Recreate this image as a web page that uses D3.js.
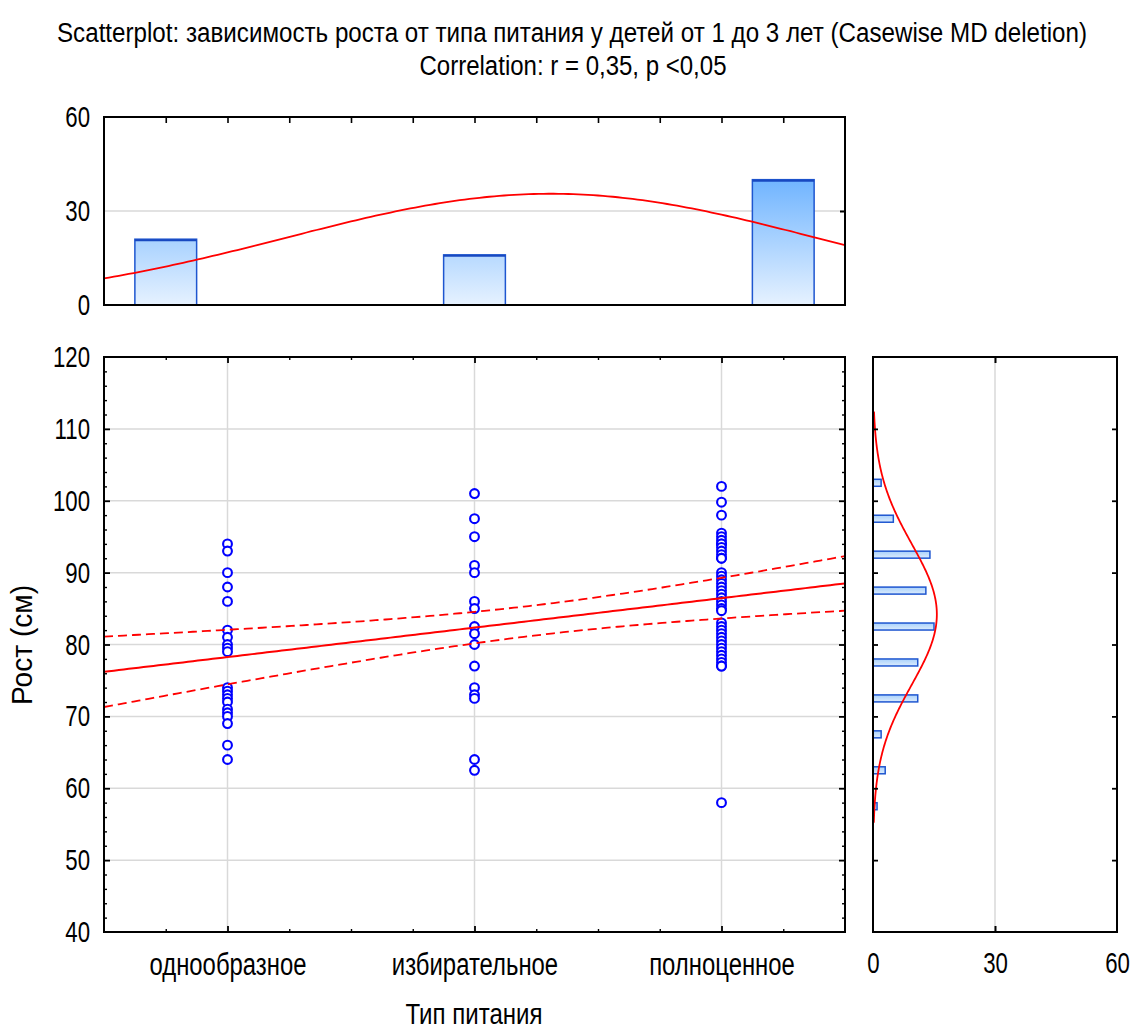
<!DOCTYPE html>
<html><head><meta charset="utf-8">
<script src="https://cdn.jsdelivr.net/npm/d3@7"></script>
<style>
body{margin:0;background:#fff}
svg{display:block}
text{font-family:"Liberation Sans",Arial,sans-serif;fill:#000}
</style>
</head><body>
<svg id="c" width="1131" height="1028"></svg>
<script>
// ---------------- DATA ----------------
const titleLine1 = "Scatterplot: зависимость роста от типа питания у детей от 1 до 3 лет (Casewise MD deletion)";
const titleLine2 = "Correlation: r = 0,35, p <0,05";
const xAxisTitle = "Тип питания";
const yAxisTitle = "Рост (см)";
const categories = ["однообразное", "избирательное", "полноценное"];
const categoryCodes = [1, 2, 3];

// heights (cm) per feeding type
const heightsUniform   = [94, 93, 90, 88, 86, 82, 81, 80, 79.5, 79, 74, 73.5, 73, 72.5, 72, 71, 70.5, 70, 69, 66, 64];
const heightsSelective = [101, 97.5, 95, 91, 90, 86, 85, 82.5, 81.5, 80, 77, 74, 73, 72.5, 64, 62.5];
const heightsFull      = [102, 99.8, 98, 95.5, 95, 94.5, 94, 94, 93.5, 93, 92.5, 92, 92,
                          90, 89.5, 89, 88.5, 88, 87.5, 87, 86.5, 86, 85.5, 85, 84.7,
                          83, 82.5, 82, 81.5, 81, 80.5, 80, 79.5, 79, 78.5, 78, 77.5, 77, 77, 58];

// top histogram (counts per feeding type, bins as drawn)
const topBinCenters = [0.75, 2, 3.25];
const topBinCounts  = [21, 16, 40];
const topBinWidth = 0.25;

// right histogram (height distribution)
const rightBinCenters = [102.5, 97.5, 92.5, 87.5, 82.5, 77.5, 72.5, 67.5, 62.5, 57.5];
const rightBinCounts  = [2, 5, 14, 13, 15, 11, 11, 2, 3, 1];

// tick values
const yTicks = [40, 50, 60, 70, 80, 90, 100, 110, 120];
const topYTicks = [0, 30, 60];
const rightXTicks = [0, 30, 60];

// fitted curves
const regIntercept = 74.15, regSlope = 4.1;                  // linear fit
const bandCenter = 2.25, bandHalf0 = 2.1, bandSpread = 2.53; // 95% confidence band
const topFitMean = 2.31, topFitSd = 1.07, topFitPeak = 35.5;
const rightFitMean = 84.2, rightFitSd = 9.8, rightFitPeak = 15.7;
const rightFitRange = [55.2, 112.5];

// ---------------- DRAWING ----------------
const svg = d3.select("#c");
const xMain = d3.scaleLinear().domain([0.5, 3.5]).range([104, 845]);
const yMain = d3.scaleLinear().domain([40, 120]).range([932, 357]);
const yTop = d3.scaleLinear().domain([0, 60]).range([305, 117]);
const xRight = d3.scaleLinear().domain([0, 60]).range([873, 1117]);

const RED = "#ff0000", BLUE = "#0000ff", GRID = "#d9d9d9", BARSTROKE = "#1e56d0";
const FONT = "Liberation Sans, Arial, sans-serif";

// tall, narrow lettering like the original
function narrow(sel, size, ratio) {
  sel.attr("font-size", size).attr("font-family", FONT).attr("fill", "#000").each(function () {
    const L = this.getComputedTextLength();
    this.setAttribute("textLength", L * ratio);
    this.setAttribute("lengthAdjust", "spacingAndGlyphs");
  });
}

const defs = svg.append("defs");
const g1 = defs.append("linearGradient").attr("id", "gTop").attr("gradientUnits", "userSpaceOnUse")
  .attr("x1", 0).attr("y1", yTop(0)).attr("x2", 0).attr("y2", yTop(60));
g1.append("stop").attr("offset", 0).attr("stop-color", "#e6f2ff");
g1.append("stop").attr("offset", 1).attr("stop-color", "#3595ff");
const g2 = defs.append("linearGradient").attr("id", "gRight").attr("x1", 0).attr("y1", 0).attr("x2", 0).attr("y2", 1);
g2.append("stop").attr("offset", 0).attr("stop-color", "#a9d1fb");
g2.append("stop").attr("offset", 1).attr("stop-color", "#dcecfd");
defs.append("clipPath").attr("id", "clipMain").append("rect")
  .attr("x", xMain(0.5)).attr("y", yMain(120)).attr("width", xMain(3.5) - xMain(0.5)).attr("height", yMain(40) - yMain(120));
defs.append("clipPath").attr("id", "clipTop").append("rect")
  .attr("x", xMain(0.5)).attr("y", yTop(60)).attr("width", xMain(3.5) - xMain(0.5)).attr("height", yTop(0) - yTop(60));

// Titles
svg.append("text").attr("x", 572).attr("y", 42).attr("text-anchor", "middle").attr("font-size", 27)
  .attr("textLength", 1030).attr("lengthAdjust", "spacingAndGlyphs").text(titleLine1);
svg.append("text").attr("x", 573).attr("y", 75).attr("text-anchor", "middle").attr("font-size", 27)
  .attr("textLength", 307).attr("lengthAdjust", "spacingAndGlyphs").text(titleLine2);

// ---------- TOP PANEL ----------
const topG = svg.append("g");
topG.append("line").attr("x1", xMain(0.5)).attr("x2", xMain(3.5)).attr("y1", yTop(30)).attr("y2", yTop(30))
  .attr("stroke", GRID).attr("stroke-width", 1.5);
const tb = topG.selectAll(".tb").data(topBinCenters.map((c, i) => ({c, v: topBinCounts[i]}))).enter();
tb.append("rect").attr("x", d => xMain(d.c - topBinWidth / 2)).attr("y", d => yTop(d.v))
  .attr("width", d => xMain(d.c + topBinWidth / 2) - xMain(d.c - topBinWidth / 2))
  .attr("height", d => yTop(0) - yTop(d.v))
  .attr("fill", "url(#gTop)").attr("stroke", BARSTROKE).attr("stroke-width", 1.5);
tb.append("line").attr("x1", d => xMain(d.c - topBinWidth / 2)).attr("x2", d => xMain(d.c + topBinWidth / 2))
  .attr("y1", d => yTop(d.v) + 1).attr("y2", d => yTop(d.v) + 1).attr("stroke", "#1848c0").attr("stroke-width", 2);
const topCurve = d3.range(0.5, 3.5001, 0.02).map(x => [x, topFitPeak * Math.exp(-0.5 * ((x - topFitMean) / topFitSd) ** 2)]);
topG.append("path").attr("clip-path", "url(#clipTop)")
  .attr("d", d3.line().x(d => xMain(d[0])).y(d => yTop(d[1]))(topCurve))
  .attr("fill", "none").attr("stroke", RED).attr("stroke-width", 1.8);
topG.append("rect").attr("x", xMain(0.5)).attr("y", yTop(60)).attr("width", xMain(3.5) - xMain(0.5))
  .attr("height", yTop(0) - yTop(60)).attr("fill", "none").attr("stroke", "#000").attr("stroke-width", 2);
const topAx = topG.append("g").attr("transform", `translate(${xMain(0.5)},0)`)
  .call(d3.axisLeft(yTop).tickValues(topYTicks).tickSize(0).tickPadding(14));
topAx.select(".domain").remove();
narrow(topAx.selectAll("text"), 30, 0.74);
const topTickVals = d3.range(0.75, 3.3, 0.25);
const tt = topG.append("g").attr("transform", `translate(0,${yTop(60)})`)
  .call(d3.axisBottom(xMain).tickValues(topTickVals).tickSize(6).tickFormat(""));
tt.select(".domain").remove(); tt.selectAll("line").attr("stroke-width", 1.6);
const tr = topG.append("g").attr("transform", `translate(${xMain(3.5)},0)`)
  .call(d3.axisLeft(yTop).tickValues([30]).tickSize(5).tickFormat(""));
tr.select(".domain").remove(); tr.selectAll("line").attr("stroke-width", 2);

// ---------- MAIN PANEL ----------
const main = svg.append("g");
main.selectAll(".hg").data(yTicks.slice(1, -1)).enter().append("line")
  .attr("x1", xMain(0.5)).attr("x2", xMain(3.5)).attr("y1", d => yMain(d)).attr("y2", d => yMain(d))
  .attr("stroke", GRID).attr("stroke-width", 1.5);
main.selectAll(".vg").data(categoryCodes).enter().append("line")
  .attr("x1", d => xMain(d)).attr("x2", d => xMain(d)).attr("y1", yMain(120)).attr("y2", yMain(40))
  .attr("stroke", GRID).attr("stroke-width", 1.5);

const groups = [heightsUniform, heightsSelective, heightsFull];
const pts = [];
groups.forEach((arr, i) => arr.forEach(v => pts.push({x: categoryCodes[i], y: v})));
main.selectAll(".pt").data(pts).enter().append("circle")
  .attr("cx", d => xMain(d.x)).attr("cy", d => yMain(d.y)).attr("r", 4.4)
  .attr("fill", "#fff").attr("stroke", BLUE).attr("stroke-width", 2.1);

const xs = d3.range(0.5, 3.5001, 0.02);
const fitY = x => regIntercept + regSlope * x;
const half = x => Math.sqrt(bandHalf0 ** 2 + bandSpread ** 2 * (x - bandCenter) ** 2);
const clipG = main.append("g").attr("clip-path", "url(#clipMain)");
clipG.append("path").attr("d", d3.line().x(x => xMain(x)).y(x => yMain(fitY(x)))(xs))
  .attr("fill", "none").attr("stroke", RED).attr("stroke-width", 2);
[1, -1].forEach(s => {
  clipG.append("path").attr("d", d3.line().x(x => xMain(x)).y(x => yMain(fitY(x) + s * half(x)))(xs))
    .attr("fill", "none").attr("stroke", RED).attr("stroke-width", 1.8).attr("stroke-dasharray", "9,5");
});

main.append("rect").attr("x", xMain(0.5)).attr("y", yMain(120)).attr("width", xMain(3.5) - xMain(0.5))
  .attr("height", yMain(40) - yMain(120)).attr("fill", "none").attr("stroke", "#000").attr("stroke-width", 2);

const yAx = main.append("g").attr("transform", `translate(${xMain(0.5)},0)`)
  .call(d3.axisLeft(yMain).tickValues(yTicks).tickSize(0).tickPadding(14));
yAx.select(".domain").remove();
narrow(yAx.selectAll("text"), 30, 0.74);
const xAx = main.append("g").attr("transform", `translate(0,${yMain(40)})`)
  .call(d3.axisBottom(xMain).tickValues(categoryCodes).tickSize(0).tickPadding(21).tickFormat((d, i) => categories[i]));
xAx.select(".domain").remove();
narrow(xAx.selectAll("text"), 31, 0.77);

const minorY = d3.range(42, 120, 2).filter(v => v % 10 !== 0);
const majorY = yTicks.slice(1, -1);
function ticksV(xpos, dirRight) {
  const axFn = dirRight ? d3.axisRight : d3.axisLeft;
  const a = main.append("g").attr("transform", `translate(${xpos},0)`).call(axFn(yMain).tickValues(minorY).tickSize(3).tickFormat(""));
  a.select(".domain").remove(); a.selectAll("line").attr("stroke-width", 1.4);
  const b = main.append("g").attr("transform", `translate(${xpos},0)`).call(axFn(yMain).tickValues(majorY).tickSize(6).tickFormat(""));
  b.select(".domain").remove(); b.selectAll("line").attr("stroke-width", 1.8);
}
ticksV(xMain(0.5), true); ticksV(xMain(3.5), false);
const minorX = d3.range(0.75, 3.4, 0.25).filter(v => Math.abs(v - Math.round(v)) > 0.01);
function ticksH(ypos, down) {
  const axFn = down ? d3.axisBottom : d3.axisTop;
  const a = main.append("g").attr("transform", `translate(0,${ypos})`).call(axFn(xMain).tickValues(minorX).tickSize(3).tickFormat(""));
  a.select(".domain").remove(); a.selectAll("line").attr("stroke-width", 1.4);
  const b = main.append("g").attr("transform", `translate(0,${ypos})`).call(axFn(xMain).tickValues(categoryCodes).tickSize(6).tickFormat(""));
  b.select(".domain").remove(); b.selectAll("line").attr("stroke-width", 1.8);
}
ticksH(yMain(120), true); ticksH(yMain(40), false);

// axis titles
svg.append("text").attr("x", 474).attr("y", 1024).attr("text-anchor", "middle").attr("font-size", 29)
  .attr("textLength", 137).attr("lengthAdjust", "spacingAndGlyphs").text(xAxisTitle);
svg.append("text").attr("transform", "translate(32,645) rotate(-90)").attr("text-anchor", "middle").attr("font-size", 29)
  .attr("textLength", 120).attr("lengthAdjust", "spacingAndGlyphs").text(yAxisTitle);

// ---------- RIGHT PANEL ----------
const right = svg.append("g");
right.append("line").attr("x1", xRight(30)).attr("x2", xRight(30)).attr("y1", yMain(120)).attr("y2", yMain(40))
  .attr("stroke", GRID).attr("stroke-width", 1.5);
right.selectAll(".rb").data(rightBinCenters.map((c, i) => ({c, v: rightBinCounts[i]}))).enter().append("rect")
  .attr("x", xRight(0)).attr("y", d => yMain(d.c) - 3.5)
  .attr("width", d => xRight(d.v) - xRight(0)).attr("height", 7)
  .attr("fill", "url(#gRight)").attr("stroke", BARSTROKE).attr("stroke-width", 1.5);
const rc = d3.range(rightFitRange[0], rightFitRange[1] + 0.001, 0.2)
  .map(v => [rightFitPeak * Math.exp(-0.5 * ((v - rightFitMean) / rightFitSd) ** 2), v]);
right.append("path").attr("d", d3.line().x(d => xRight(d[0])).y(d => yMain(d[1]))(rc))
  .attr("fill", "none").attr("stroke", RED).attr("stroke-width", 1.8);
right.append("rect").attr("x", xRight(0)).attr("y", yMain(120)).attr("width", xRight(60) - xRight(0))
  .attr("height", yMain(40) - yMain(120)).attr("fill", "none").attr("stroke", "#000").attr("stroke-width", 2);
const rl = right.append("g").attr("transform", `translate(${xRight(0)},0)`)
  .call(d3.axisRight(yMain).tickValues(majorY).tickSize(5).tickFormat(""));
rl.select(".domain").remove(); rl.selectAll("line").attr("stroke-width", 1.8);
const rr = right.append("g").attr("transform", `translate(${xRight(60)},0)`)
  .call(d3.axisLeft(yMain).tickValues(majorY).tickSize(5).tickFormat(""));
rr.select(".domain").remove(); rr.selectAll("line").attr("stroke-width", 1.8);
const rt = right.append("g").attr("transform", `translate(0,${yMain(120)})`)
  .call(d3.axisBottom(xRight).tickValues([30]).tickSize(6).tickFormat(""));
rt.select(".domain").remove(); rt.selectAll("line").attr("stroke-width", 2);
const rbm = right.append("g").attr("transform", `translate(0,${yMain(40)})`)
  .call(d3.axisTop(xRight).tickValues([30]).tickSize(6).tickFormat(""));
rbm.select(".domain").remove(); rbm.selectAll("line").attr("stroke-width", 2);
const rx = right.append("g").attr("transform", `translate(0,${yMain(40)})`)
  .call(d3.axisBottom(xRight).tickValues(rightXTicks).tickSize(0).tickPadding(20));
rx.select(".domain").remove();
narrow(rx.selectAll("text"), 30, 0.74);
</script>
</body></html>
